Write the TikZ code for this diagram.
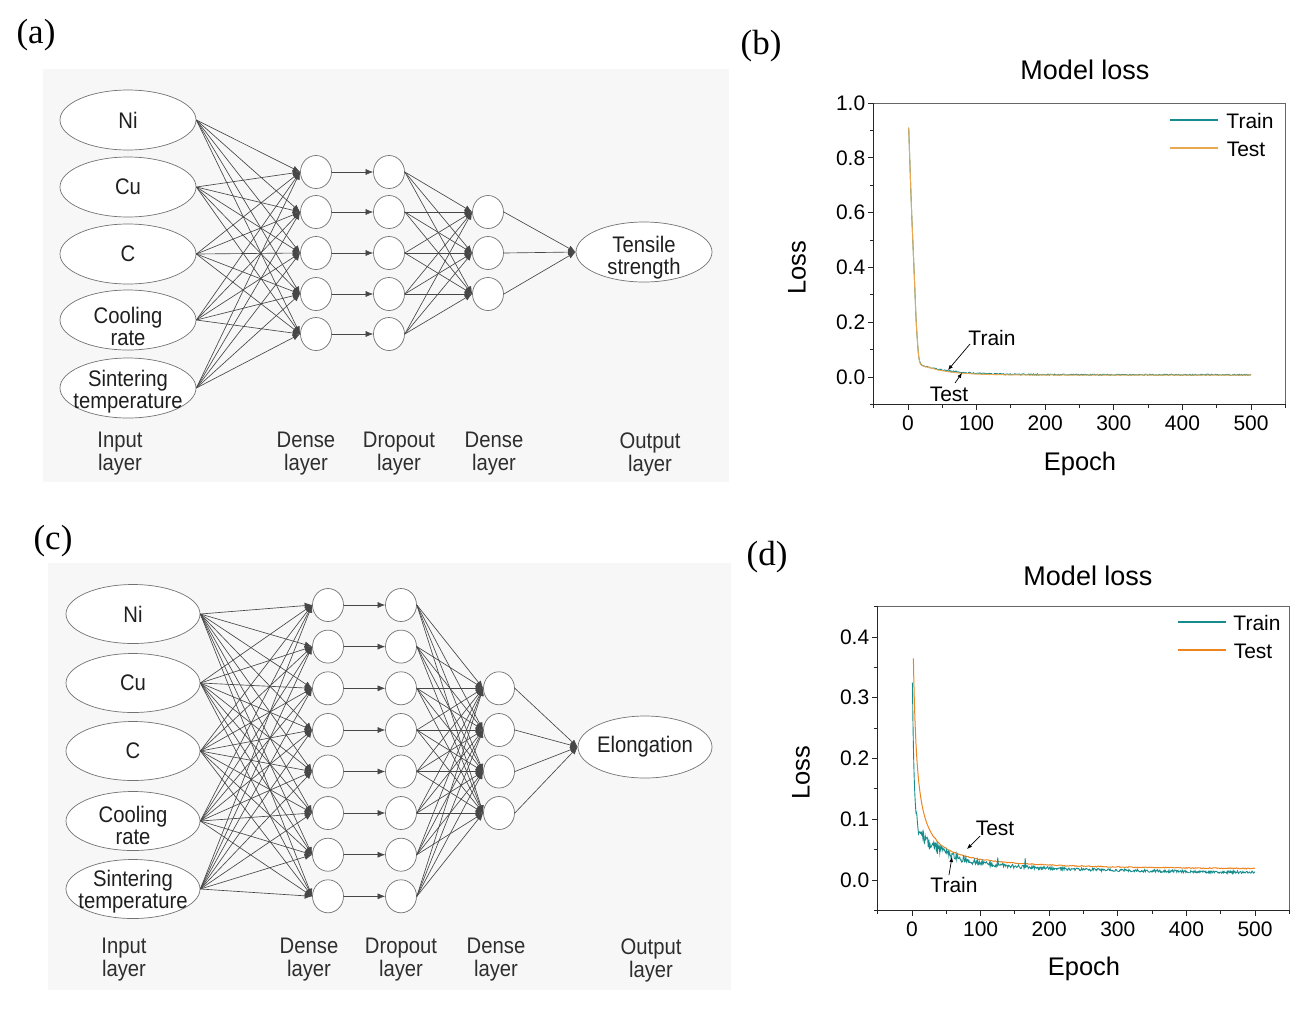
\documentclass[tikz,border=0pt]{standalone}
\usepackage{fontspec}
\setmainfont{Liberation Sans}
\newfontfamily\netfont[FakeStretch=0.9]{Liberation Sans}
\newfontfamily\panelfont{Liberation Serif}
\usetikzlibrary{arrows.meta,shapes.geometric}
\definecolor{bgc}{RGB}{247,247,247}
\definecolor{tealc}{RGB}{22,140,140}
\definecolor{orangeb}{RGB}{236,168,80}
\definecolor{oranged}{RGB}{238,132,32}
\newcommand\mystrut[1]{\rule{0pt}{#1}}
\tikzset{
  netline/.style={draw=black!72, line width=0.65pt, -{Latex[length=7.5pt,width=6pt]}},
  inell/.style={ellipse, draw=black!55, fill=white, line width=0.7pt, minimum width=136pt, minimum height=60pt, inner sep=-10pt, align=center, text=black!88, font=\netfont\fontsize{22.5}{22}\selectfont},
  neuron/.style={ellipse, draw=black!55, fill=white, line width=0.7pt, minimum width=31pt, minimum height=33pt, inner sep=0pt},
  laylab/.style={align=center, text=black!82, font=\netfont\fontsize{22.5}{23}\selectfont},
  panellab/.style={font=\panelfont\fontsize{35}{35}\selectfont},
  ticklab/.style={font=\fontsize{21}{21}\selectfont, inner sep=2pt},
  xticklab/.style={font=\fontsize{21}{21}\selectfont, inner sep=5pt},
  axlab/.style={font=\fontsize{25.5}{25.5}\selectfont},
  titlelab/.style={font=\fontsize{27}{27}\selectfont},
  leglab/.style={font=\fontsize{21}{21}\selectfont},
  annarrow/.style={draw=black, line width=0.7pt, -{Latex[length=5pt,width=4pt]}},
  mainaxis/.style={draw=black!85, line width=1.1pt},
  sideaxis/.style={draw=black!60, line width=1.0pt},
  tickline/.style={draw=black!85, line width=0.9pt}
}
\begin{document}
\begin{tikzpicture}[x=1pt,y=-1pt]
\useasboundingbox (0,0) rectangle (1313,1015);
\pgfmathsetseed{7}
% ================= panel (a) =================
\node[panellab] (la) at (36,35) {(a)};
\fill[bgc] (43,69) rectangle (729,482);
\node[inell] (ai1) at (128,120) {Ni};
\node[inell] (ai2) at (128,187) {Cu};
\node[inell] (ai3) at (128,254) {C};
\node[inell] (ai4) at (128,320) {\mystrut{30pt}Cooling\\rate};
\node[inell] (ai5) at (128,388) {\mystrut{24.5pt}Sintering\\temperature};
\foreach \y [count=\i] in {172,212,253,294,334} {
  \node[neuron] (ad\i) at (316,\y) {};
  \node[neuron] (ao\i) at (389,\y) {};
}
\foreach \y [count=\i] in {212,253,294}
  \node[neuron] (ae\i) at (488,\y) {};
\node[inell] (aout) at (644,252) {\mystrut{28.5pt}Tensile\\strength};
\foreach \i in {1,...,5} \foreach \j in {1,...,5}
  \draw[netline] (ai\i.east) -- (ad\j.west);
\foreach \i in {1,...,5}
  \draw[netline] (ad\i.east) -- (ao\i.west);
\foreach \i in {1,...,5} \foreach \j in {1,...,3}
  \draw[netline] (ao\i.east) -- (ae\j.west);
\foreach \j in {1,...,3}
  \draw[netline] (ae\j.east) -- (aout.west);
\node[laylab] (al1) at (120,454) {Input\\layer};
\node[laylab] (al2) at (306,454) {Dense\\layer};
\node[laylab] (al3) at (399,454) {Dropout\\layer};
\node[laylab] (al4) at (494,454) {Dense\\layer};
\node[laylab] (al5) at (650,454) {Output\\layer};
% ================= panel (c) =================
\node[panellab] (lc) at (53,541) {(c)};
\fill[bgc] (48,563) rectangle (731,990);
\node[inell, minimum width=134pt, minimum height=59pt] (ci1) at (133,614) {Ni};
\node[inell, minimum width=134pt, minimum height=59pt] (ci2) at (133,683) {Cu};
\node[inell, minimum width=134pt, minimum height=59pt] (ci3) at (133,751) {C};
\node[inell, minimum width=134pt, minimum height=59pt] (ci4) at (133,821) {\mystrut{25.5pt}Cooling\\rate};
\node[inell, minimum width=134pt, minimum height=59pt] (ci5) at (133,889) {\mystrut{21.5pt}Sintering\\temperature};
\foreach \y [count=\i] in {605,646.6,688.3,730,771.5,813,854.7,896.3} {
  \node[neuron] (cd\i) at (328,\y) {};
  \node[neuron] (co\i) at (401,\y) {};
}
\foreach \y [count=\i] in {688.3,730,771.5,813}
  \node[neuron] (ce\i) at (499,\y) {};
\node[inell, minimum width=134pt, minimum height=62pt] (cout) at (645,747) {Elongation};
\foreach \i in {1,...,5} \foreach \j in {1,...,8}
  \draw[netline] (ci\i.east) -- (cd\j.west);
\foreach \i in {1,...,8}
  \draw[netline] (cd\i.east) -- (co\i.west);
\foreach \i in {1,...,8} \foreach \j in {1,...,4}
  \draw[netline] (co\i.east) -- (ce\j.west);
\foreach \j in {1,...,4}
  \draw[netline] (ce\j.east) -- (cout.west);
\node[laylab] (cl1) at (124,960) {Input\\layer};
\node[laylab] (cl2) at (309,960) {Dense\\layer};
\node[laylab] (cl3) at (401,960) {Dropout\\layer};
\node[laylab] (cl4) at (496,960) {Dense\\layer};
\node[laylab] (cl5) at (651,960) {Output\\layer};
% ================= panel (b) =================
\node[panellab] (lb) at (761,46) {(b)};
\node[titlelab] (tb) at (1085,70) {Model loss};
\node[axlab, rotate=90] (yb) at (797,268) {Loss};
\node[axlab] (xb) at (1080,464) {Epoch};
\begin{scope}[shift={(908,377)}, x=0.686pt, y=274pt]
  \draw[tealc, line width=0.9pt] plot[smooth] coordinates {(1,0.91)(5,0.62)(9,0.38)(12,0.2)(15,0.09)(17,0.057)(20,0.044)(24,0.04)}
     -- plot[domain=24:500, samples=420] (\x, {0.008+0.031*exp(-(\x-24)/45)+0.0024*rand});
  \draw[orangeb, line width=1.0pt] plot[smooth] coordinates {(1,0.91)(5,0.62)(9,0.38)(12,0.2)(15,0.09)(17,0.055)(20,0.042)(30,0.035)}
     -- plot[domain=30:500, samples=240] (\x, {0.007+0.028*exp(-(\x-30)/35)+0.0006*rand});
  \draw[sideaxis] (-50,1.0) -- (550,1.0) -- (550,-0.1);
  \draw[mainaxis] (-50,1.0) -- (-50,-0.1) -- (550,-0.1);
  \foreach \v/\l in {0/0.0,0.2/0.2,0.4/0.4,0.6/0.6,0.8/0.8,1.0/1.0}
    \draw[tickline] (-50,\v) -- ++(-6pt,0) node[ticklab, left] {\l};
  \foreach \v in {-0.1,0.1,0.3,0.5,0.7,0.9}
    \draw[tickline] (-50,\v) -- ++(-3.5pt,0);
  \foreach \v in {0,100,...,500}
    \draw[tickline] (\v,-0.1) -- ++(0,-6pt) node[xticklab, below] {\v};
  \foreach \v in {-50,50,150,250,350,450,550}
    \draw[tickline] (\v,-0.1) -- ++(0,-3.5pt);
\end{scope}
\coordinate (bl1a) at (1170,120); \coordinate (bl1b) at (1218,120);
\coordinate (bl2a) at (1170,148); \coordinate (bl2b) at (1218,148);
\draw[tealc, line width=1.2pt] (bl1a) -- (bl1b);
\draw[orangeb, line width=1.2pt] (bl2a) -- (bl2b);
\node[leglab] (btr) at (1250,121) {Train};
\node[leglab] (bte) at (1246,149) {Test};
\node[leglab] (bat) at (992,338) {Train};
\coordinate (bat1) at (970,344); \coordinate (bat2) at (948,370);
\draw[annarrow] (bat1) -- (bat2);
\node[leglab] (bae) at (949,394) {Test};
\coordinate (bae1) at (955,383); \coordinate (bae2) at (962,373);
\draw[annarrow] (bae1) -- (bae2);
% ================= panel (d) =================
\node[panellab] (ld) at (767,557) {(d)};
\node[titlelab] (td) at (1088,576) {Model loss};
\node[axlab, rotate=90] (yd) at (801,773) {Loss};
\node[axlab] (xd) at (1084,969) {Epoch};
\begin{scope}[shift={(912,880)}, x=0.686pt, y=607.5pt]
  \draw[oranged, line width=1.0pt] plot[domain=2:30, samples=80] (\x, {0.015+0.541/(1+0.273*\x)})
     -- plot[domain=30:500, samples=300] (\x, {0.015+0.541/(1+0.273*\x)+0.0008*rand});
  \draw[tealc, line width=0.9pt] plot[domain=0.6:6, samples=20] (\x, {0.01+0.02*exp(-\x/250)+0.06*exp(-\x/40)+0.3*exp(-\x/2.5)})
     -- plot[domain=6:500, samples=560] (\x, {0.01+0.02*exp(-\x/250)+0.06*exp(-\x/40)+0.3*exp(-\x/2.5)+(0.0022+0.011*exp(-\x/60))*rand});
  \draw[tealc, line width=0.8pt] (124,0.025) -- (125,0.037) -- (126,0.026);
  \draw[tealc, line width=0.8pt] (164,0.022) -- (165,0.036) -- (166,0.022);
  \draw[sideaxis] (-50,0.45) -- (550,0.45) -- (550,-0.05);
  \draw[mainaxis] (-50,0.45) -- (-50,-0.05) -- (550,-0.05);
  \foreach \v/\l in {0/0.0,0.1/0.1,0.2/0.2,0.3/0.3,0.4/0.4}
    \draw[tickline] (-50,\v) -- ++(-6pt,0) node[ticklab, left] {\l};
  \foreach \v in {-0.05,0.05,0.15,0.25,0.35,0.45}
    \draw[tickline] (-50,\v) -- ++(-3.5pt,0);
  \foreach \v in {0,100,...,500}
    \draw[tickline] (\v,-0.05) -- ++(0,-6pt) node[xticklab, below] {\v};
  \foreach \v in {-50,50,150,250,350,450,550}
    \draw[tickline] (\v,-0.05) -- ++(0,-3.5pt);
\end{scope}
\coordinate (dl1a) at (1178,622); \coordinate (dl1b) at (1226,622);
\coordinate (dl2a) at (1178,650); \coordinate (dl2b) at (1226,650);
\draw[tealc, line width=1.2pt] (dl1a) -- (dl1b);
\draw[oranged, line width=1.2pt] (dl2a) -- (dl2b);
\node[leglab] (dtr) at (1257,623) {Train};
\node[leglab] (dte) at (1253,651) {Test};
\node[leglab] (dae) at (995,828) {Test};
\coordinate (dae1) at (980,836); \coordinate (dae2) at (967,849);
\draw[annarrow] (dae1) -- (dae2);
\node[leglab] (dat) at (954,885) {Train};
\coordinate (dat1) at (949,875); \coordinate (dat2) at (952,857);
\draw[annarrow] (dat1) -- (dat2);
\end{tikzpicture}
\end{document}
